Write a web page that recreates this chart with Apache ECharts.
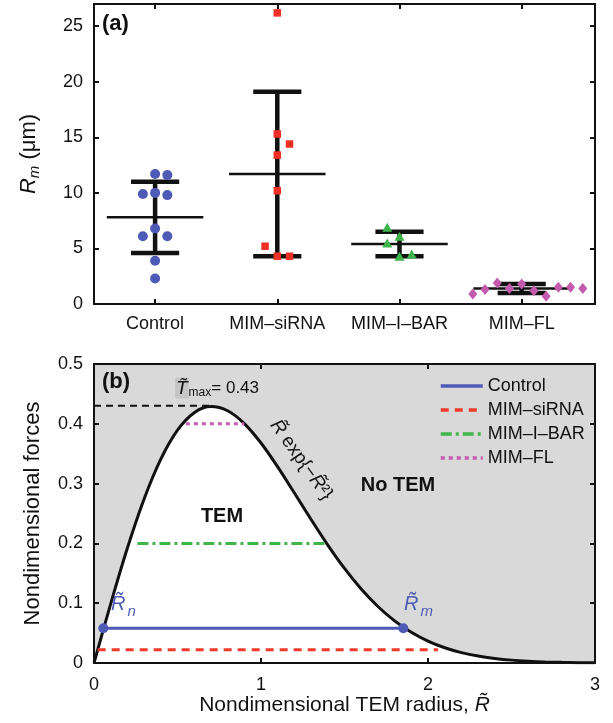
<!DOCTYPE html>
<html><head><meta charset="utf-8">
<script src="https://cdn.jsdelivr.net/npm/echarts@6/dist/echarts.min.js"></script>
<style>html,body{margin:0;padding:0;background:#fff}#c{width:613px;height:723px}</style>
</head><body><div id="c"></div>
<script>
// ---------- Panel (a) data ----------
const categories = ['Control', 'MIM\u2013siRNA', 'MIM\u2013I\u2013BAR', 'MIM\u2013FL'];
const categoryTicks = [1, 2, 3, 4];
const controlValues = [9.9, 10.0, 9.8, 11.7, 11.6, 6.8, 6.1, 6.1, 3.9, 2.3];
const controlJitter = [-0.1, 0, 0.1, 0, 0.1, 0, -0.1, 0.1, 0, 0];
const sirnaValues = [26.2, 15.3, 14.4, 13.4, 10.2, 5.2, 4.3, 4.3];
const sirnaJitter = [0, 0, 0.1, 0, 0, -0.1, 0, 0.1];
const ibarValues = [6.9, 6.1, 5.5, 4.3, 4.5];
const ibarJitter = [-0.1, 0, -0.1, 0, 0.1];
const flValues = [0.9, 1.3, 1.9, 1.4, 1.8, 1.2, 0.7, 1.5, 1.5, 1.4];
const flJitter = [-0.4, -0.3, -0.2, -0.1, 0, 0.1, 0.2, 0.3, 0.4, 0.5];
const means = [7.8, 11.7, 5.4, 1.4];
const errLower = [4.6, 4.3, 4.3, 1.0];
const errUpper = [11.0, 19.1, 6.5, 1.8];
const yTicksA = [0, 5, 10, 15, 20, 25];

// ---------- Panel (b) data ----------
const curveR = [0, 0.1, 0.2, 0.3, 0.4, 0.5, 0.6, 0.7, 0.8, 0.9, 1.0, 1.1, 1.2, 1.3, 1.4, 1.5,
  1.6, 1.7, 1.8, 1.9, 2.0, 2.1, 2.2, 2.3, 2.4, 2.5, 2.6, 2.7, 2.8, 2.9, 3.0];
const curveForce = [0, 0.0990, 0.1922, 0.2742, 0.3409, 0.3894, 0.4186, 0.4288, 0.4218, 0.4004,
  0.3679, 0.3280, 0.2843, 0.2399, 0.1972, 0.1581, 0.1237, 0.0945, 0.0705, 0.0514, 0.0366,
  0.0255, 0.0174, 0.0116, 0.0076, 0.0048, 0.0030, 0.0018, 0.0011, 0.0006, 0.0004];
const tMax = 0.43;
const tMaxEnd = 0.7;
const levelNames = ['Control', 'MIM\u2013siRNA', 'MIM\u2013I\u2013BAR', 'MIM\u2013FL'];
const levelForce = [0.058, 0.022, 0.2, 0.4];
const levelStart = [0.056, 0.022, 0.26, 0.55];
const levelEnd = [1.852, 2.06, 1.38, 0.90];

// ---------- styles ----------
const FONT = '"Liberation Sans", Arial, Helvetica, sans-serif';
const INK = '#111';
const blue = '#4d5bb6', red = '#ee3124', green = '#3db54a', magenta = '#c45aad';
const levelColors = [blue, '#f03a2c', '#3fb54a', '#c75ab2'];
const levelDash = ['solid', [8, 6], [11, 4, 3, 4], [4, 4]];

const chart = echarts.init(document.getElementById('c'));

function pts(values, jitter, idx) { return values.map((v, i) => [categoryTicks[idx] + jitter[i], v]); }

const axLine = { show: true, onZero: false, lineStyle: { color: INK, width: 2 } };
function ticks(extra) { return Object.assign({ show: true, inside: true, length: 5, lineStyle: { color: INK, width: 2 } }, extra || {}); }
const noSplit = { show: false };
const tickLabel = { fontSize: 18, color: INK, fontFamily: FONT };

const series = [];
// error bars (panel a)
series.push({
  type: 'custom', xAxisIndex: 0, yAxisIndex: 0, z: 2,
  data: categories.map((c, i) => [categoryTicks[i], means[i], errLower[i], errUpper[i]]),
  renderItem: function (params, api) {
    const x = api.value(0);
    const pm = api.coord([x, api.value(1)]);
    const pl = api.coord([x, api.value(2)]);
    const ph = api.coord([x, api.value(3)]);
    const meanHalf = api.size([0.395, 0])[0];
    const capHalf = api.size([0.197, 0])[0];
    const thick = { stroke: INK, lineWidth: 4.5 };
    return { type: 'group', children: [
      { type: 'line', shape: { x1: pm[0] - meanHalf, y1: pm[1], x2: pm[0] + meanHalf, y2: pm[1] }, style: { stroke: INK, lineWidth: 2.5 } },
      { type: 'line', shape: { x1: pl[0], y1: pl[1], x2: ph[0], y2: ph[1] }, style: thick },
      { type: 'line', shape: { x1: pl[0] - capHalf, y1: pl[1], x2: pl[0] + capHalf, y2: pl[1] }, style: thick },
      { type: 'line', shape: { x1: ph[0] - capHalf, y1: ph[1], x2: ph[0] + capHalf, y2: ph[1] }, style: thick }
    ]};
  }
});
series.push({ type: 'scatter', xAxisIndex: 0, yAxisIndex: 0, z: 3, symbol: 'circle', symbolSize: 10, itemStyle: { color: blue, opacity: 1 }, data: pts(controlValues, controlJitter, 0) });
series.push({ type: 'scatter', xAxisIndex: 0, yAxisIndex: 0, z: 3, symbol: 'rect', symbolSize: 7.5, itemStyle: { color: red, opacity: 1 }, data: pts(sirnaValues, sirnaJitter, 1) });
series.push({ type: 'scatter', xAxisIndex: 0, yAxisIndex: 0, z: 3, symbol: 'triangle', symbolSize: [10, 9], itemStyle: { color: green, opacity: 1 }, data: pts(ibarValues, ibarJitter, 2) });
series.push({ type: 'scatter', xAxisIndex: 0, yAxisIndex: 0, z: 3, symbol: 'diamond', symbolSize: [9, 11], itemStyle: { color: magenta, opacity: 1 }, data: pts(flValues, flJitter, 3) });

// curve with white area (panel b)
series.push({
  type: 'line', name: 'curve', xAxisIndex: 2, yAxisIndex: 2, z: 2,
  data: curveR.map((r, i) => [r, curveForce[i]]),
  smooth: 0.3, symbol: 'none',
  lineStyle: { color: INK, width: 3 },
  areaStyle: { color: '#ffffff', opacity: 1, origin: 'start' }
});
// Tmax dashed
series.push({
  type: 'line', name: 'tmax', xAxisIndex: 2, yAxisIndex: 2, z: 3, symbol: 'none',
  data: [[0, tMax], [tMaxEnd, tMax]],
  lineStyle: { color: INK, width: 2, type: [7, 5] }
});
// level lines
levelNames.forEach((n, i) => {
  series.push({
    type: 'line', name: n, xAxisIndex: 2, yAxisIndex: 2, z: 4, symbol: 'none',
    data: [[levelStart[i], levelForce[i]], [levelEnd[i], levelForce[i]]],
    itemStyle: { color: levelColors[i] },
    lineStyle: { color: levelColors[i], width: 3, type: levelDash[i] }
  });
});
// endpoint dots for Control
series.push({
  type: 'scatter', name: 'ends', xAxisIndex: 2, yAxisIndex: 2, z: 5, symbol: 'circle', symbolSize: 10,
  itemStyle: { color: blue, opacity: 1 },
  data: [[levelStart[0], levelForce[0]], [levelEnd[0], levelForce[0]]]
});

const option = {
  animation: false,
  backgroundColor: '#ffffff',
  textStyle: { fontFamily: FONT },
  grid: [
    { left: 94, top: 4, width: 501, height: 300, show: false },
    { left: 94, top: 364, width: 501, height: 299, show: true, backgroundColor: '#d9d9d9', borderWidth: 0 }
  ],
  legend: {
    data: levelNames, orient: 'vertical', left: 434, top: 371,
    itemWidth: 42, itemHeight: 12, itemGap: 4, selectedMode: false,
    itemStyle: { opacity: 0, borderWidth: 0 },
    lineStyle: { width: 3.5 },
    textStyle: { fontSize: 18, color: INK, fontFamily: FONT, lineHeight: 20 }
  },
  xAxis: [
    { gridIndex: 0, type: 'value', min: 0.5, max: 4.6, position: 'bottom', z: 10,
      axisLine: axLine, axisTick: ticks({ customValues: categoryTicks }), splitLine: noSplit,
      axisLabel: Object.assign({ customValues: categoryTicks, margin: 11, formatter: v => categories[Math.round(v) - 1] }, tickLabel) },
    { gridIndex: 0, type: 'value', min: 0.5, max: 4.6, position: 'top', z: 10,
      axisLine: axLine, axisTick: ticks({ customValues: categoryTicks }), splitLine: noSplit, axisLabel: { show: false } },
    { gridIndex: 1, type: 'value', min: 0, max: 3, interval: 1, position: 'bottom', z: 10,
      axisLine: axLine, axisTick: ticks(), splitLine: noSplit,
      axisLabel: Object.assign({ margin: 13 }, tickLabel),
      name: '{n|Nondimensional TEM radius, }{i|R\u0303}', nameLocation: 'middle', nameGap: 32,
      nameTextStyle: { rich: { n: { fontSize: 21, color: INK, fontFamily: FONT }, i: { fontSize: 21, color: INK, fontFamily: FONT, fontStyle: 'italic' } } } },
    { gridIndex: 1, type: 'value', min: 0, max: 3, interval: 1, position: 'top', z: 10,
      axisLine: axLine, axisTick: ticks(), splitLine: noSplit, axisLabel: { show: false } }
  ],
  yAxis: [
    { gridIndex: 0, type: 'value', min: 0, max: 27, position: 'left', z: 10,
      axisLine: axLine, axisTick: ticks({ customValues: yTicksA }), splitLine: noSplit,
      axisLabel: Object.assign({ customValues: yTicksA, margin: 11 }, tickLabel),
      name: '{i|R}{s|m}{n| (\u03bcm)}', nameLocation: 'middle', nameGap: 52, nameRotate: 90,
      nameTextStyle: { rich: {
        i: { fontSize: 22, color: INK, fontFamily: FONT, fontStyle: 'italic' },
        s: { fontSize: 15, color: INK, fontFamily: FONT, fontStyle: 'italic', padding: [12, 0, 0, 0] },
        n: { fontSize: 22, color: INK, fontFamily: FONT } } } },
    { gridIndex: 0, type: 'value', min: 0, max: 27, position: 'right', z: 10,
      axisLine: axLine, axisTick: ticks({ customValues: yTicksA }), splitLine: noSplit, axisLabel: { show: false } },
    { gridIndex: 1, type: 'value', min: 0, max: 0.5, interval: 0.1, position: 'left', z: 10,
      axisLine: axLine, axisTick: ticks(), splitLine: noSplit,
      axisLabel: Object.assign({ margin: 11 }, tickLabel),
      name: 'Nondimensional forces', nameLocation: 'middle', nameGap: 50, nameRotate: 90,
      nameTextStyle: { fontSize: 22, color: INK, fontFamily: FONT } },
    { gridIndex: 1, type: 'value', min: 0, max: 0.5, interval: 0.1, position: 'right', z: 10,
      axisLine: axLine, axisTick: ticks(), splitLine: noSplit, axisLabel: { show: false } }
  ],
  series: series,
  graphic: [
    { type: 'text', left: 102, top: 13, z: 20, style: { text: '(a)', font: 'bold 22px ' + FONT, fill: INK } },
    { type: 'text', left: 102, top: 371, z: 20, style: { text: '(b)', font: 'bold 22px ' + FONT, fill: INK } },
    { type: 'text', x: 222, y: 516, z: 20, style: { text: 'TEM', font: 'bold 20px ' + FONT, fill: INK, align: 'center', verticalAlign: 'middle' } },
    { type: 'text', x: 398, y: 485, z: 20, style: { text: 'No TEM', font: 'bold 20px ' + FONT, fill: INK, align: 'center', verticalAlign: 'middle' } },
    { type: 'text', x: 175, y: 377, z: 20, style: {
        text: '{t|T\u0303}{s|max}{v|= 0.43}',
        rich: {
          t: { fontSize: 19, fontStyle: 'italic', fontFamily: FONT, fill: INK, backgroundColor: '#c6c6c6', padding: [2, 1, 0, 1] },
          s: { fontSize: 12, fontFamily: FONT, fill: INK, padding: [10, 0, 0, 0] },
          v: { fontSize: 17, fontFamily: FONT, fill: INK }
        } } },
    { type: 'text', x: 274, y: 422, rotation: -0.95, z: 20, style: {
        text: '{i|R\u0303} exp{\u2212{i|R\u0303}\u00b2}',
        font: '19px ' + FONT, fill: INK, align: 'left', verticalAlign: 'middle',
        rich: { i: { fontSize: 19, fontStyle: 'italic', fontFamily: FONT, fill: INK } } } },
    { type: 'text', x: 111, y: 590, z: 20, style: {
        text: '{r|R\u0303}{s|n}',
        rich: { r: { fontSize: 20, fontStyle: 'italic', fontFamily: FONT, fill: blue },
                s: { fontSize: 15, fontStyle: 'italic', fontFamily: FONT, fill: blue, padding: [14, 0, 0, 2] } } } },
    { type: 'text', x: 404, y: 590, z: 20, style: {
        text: '{r|R\u0303}{s|m}',
        rich: { r: { fontSize: 20, fontStyle: 'italic', fontFamily: FONT, fill: blue },
                s: { fontSize: 15, fontStyle: 'italic', fontFamily: FONT, fill: blue, padding: [14, 0, 0, 2] } } } }
  ]
};
chart.setOption(option);
</script>
</body></html>
